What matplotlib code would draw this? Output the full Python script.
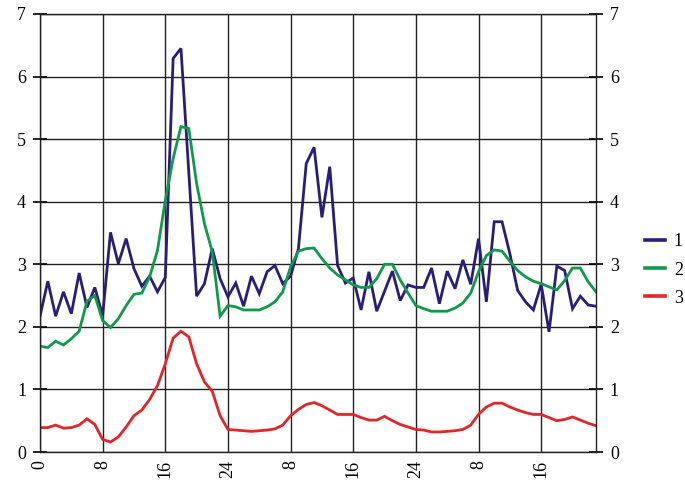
import matplotlib
matplotlib.use("Agg")
import matplotlib.pyplot as plt
import numpy as np

plt.rcParams['font.family'] = ['Liberation Serif', 'DejaVu Serif']

hours = list(range(72))

series1 = [2.17, 2.73, 2.17, 2.56, 2.21, 2.86, 2.31, 2.63, 2.18, 3.51,
           3.01, 3.41, 2.93, 2.65, 2.81, 2.56, 2.79, 6.29, 6.45, 4.47,
           2.49, 2.69, 3.25, 2.77, 2.48, 2.70, 2.33, 2.81, 2.53, 2.88,
           2.98, 2.69, 2.81, 3.25, 4.61, 4.87, 3.75, 4.56, 2.98, 2.70,
           2.78, 2.27, 2.88, 2.25, 2.57, 2.89, 2.42, 2.67, 2.63, 2.63,
           2.94, 2.37, 2.89, 2.61, 3.07, 2.68, 3.41, 2.40, 3.68, 3.68,
           3.17, 2.58, 2.40, 2.27, 2.68, 1.92, 2.97, 2.90, 2.29, 2.49,
           2.35, 2.33]

series2 = [1.69, 1.67, 1.77, 1.71, 1.81, 1.93, 2.41, 2.50, 2.10, 1.99,
           2.13, 2.34, 2.52, 2.54, 2.80, 3.22, 4.02, 4.69, 5.20, 5.17,
           4.29, 3.65, 3.20, 2.17, 2.34, 2.32, 2.27, 2.27, 2.27, 2.32,
           2.40, 2.56, 2.96, 3.21, 3.25, 3.26, 3.09, 2.94, 2.83, 2.75,
           2.67, 2.63, 2.63, 2.77, 3.00, 3.00, 2.75, 2.54, 2.34, 2.29,
           2.25, 2.25, 2.25, 2.30, 2.38, 2.54, 2.88, 3.14, 3.23, 3.21,
           3.05, 2.90, 2.80, 2.73, 2.69, 2.64, 2.59, 2.74, 2.94, 2.94,
           2.72, 2.56]

series3 = [0.39, 0.39, 0.43, 0.38, 0.39, 0.43, 0.53, 0.44, 0.20, 0.16,
           0.24, 0.40, 0.58, 0.67, 0.84, 1.06, 1.41, 1.82, 1.93, 1.84,
           1.41, 1.12, 0.97, 0.58, 0.36, 0.35, 0.34, 0.33, 0.34, 0.35,
           0.37, 0.43, 0.58, 0.68, 0.76, 0.79, 0.74, 0.67, 0.60, 0.60,
           0.60, 0.55, 0.51, 0.51, 0.57, 0.50, 0.44, 0.40, 0.36, 0.35,
           0.32, 0.32, 0.33, 0.34, 0.36, 0.43, 0.60, 0.72, 0.78, 0.78,
           0.72, 0.67, 0.63, 0.60, 0.60, 0.55, 0.50, 0.52, 0.56, 0.51,
           0.46, 0.42]

series_names = ["1", "2", "3"]
x_tick_pos = [0, 8, 16, 24, 32, 40, 48, 56, 64]
x_tick_labels = ["0", "8", "16", "24", "8", "16", "24", "8", "16"]
y_ticks = [0, 1, 2, 3, 4, 5, 6, 7]

colors = ["#2a1d78", "#0e9a48", "#e0262a"]

fig = plt.figure(figsize=(6.85, 4.86), dpi=100)
ax = fig.add_axes([40/685, 1 - 452/486, (596 - 40)/685, (452 - 14)/486])

for vals, c, name in zip([series1, series2, series3], colors, series_names):
    ax.plot(hours, vals, color=c, lw=2.0, label=name, solid_joinstyle='miter')

ax.set_xlim(0, 71)
ax.set_ylim(0, 7)
ax.set_xticks(x_tick_pos)
ax.set_xticklabels(x_tick_labels, rotation=90, fontsize=13)
ax.set_yticks(y_ticks)
ax.set_yticklabels([str(v) for v in y_ticks], fontsize=13)
ax.tick_params(axis='y', which='both', left=True, right=True, labelleft=True,
               labelright=True, direction='inout', length=10, width=1.2, pad=5)
ax.tick_params(axis='x', direction='out', length=0, pad=6)
ax.grid(True, color='#222222', lw=1.0)
ax.set_axisbelow(True)
for s in ax.spines.values():
    s.set_color('#222222')
    s.set_linewidth(1.0)

leg = ax.legend(loc='center left', bbox_to_anchor=(645/685, 1 - 270/486),
                bbox_transform=fig.transFigure, frameon=False, fontsize=13,
                handlelength=1.1, handletextpad=0.5, labelspacing=0.62,
                borderaxespad=0, borderpad=0)
for ln in leg.get_lines():
    ln.set_linewidth(2.6)

fig.savefig("out.png", dpi=100)
